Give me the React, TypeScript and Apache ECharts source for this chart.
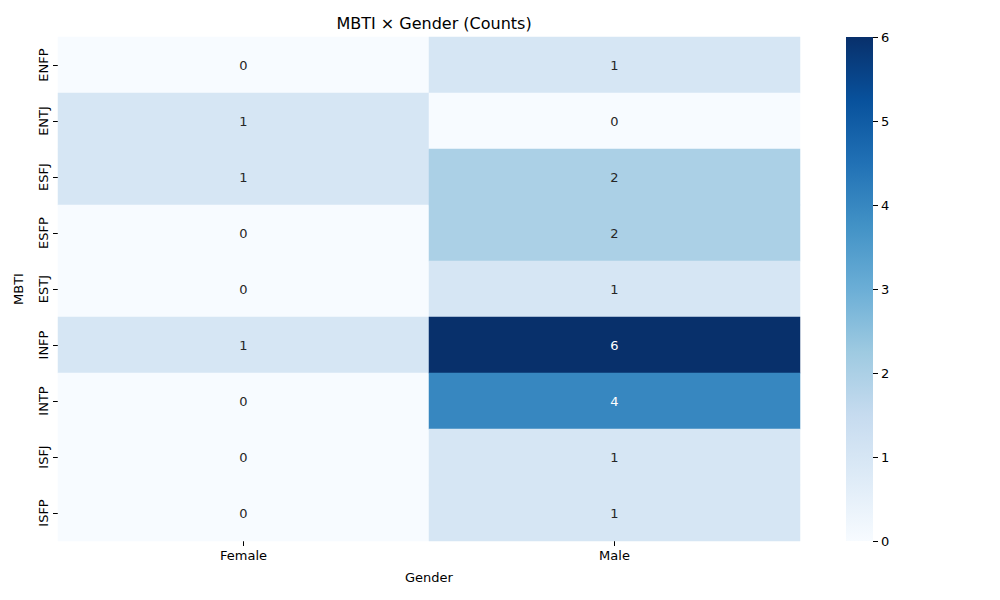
import React, { useEffect, useRef } from "react";
import * as echarts from "echarts";

const mbtiTypes = ["ENFP", "ENTJ", "ESFJ", "ESFP", "ESTJ", "INFP", "INTP", "ISFJ", "ISFP"];
const genders = ["Female", "Male"];
const femaleCounts = [0, 1, 1, 0, 0, 1, 0, 0, 0];
const maleCounts = [1, 0, 2, 2, 1, 6, 4, 1, 1];
const colorbarMin = 0;
const colorbarMax = 6;
const bluesColors = ["#f7fbff", "#deebf7", "#c6dbef", "#9ecae1", "#6baed6", "#4292c6", "#2171b5", "#08519c", "#08306b"];

const FONT = "DejaVu Sans";

export default function App() {
  const ref = useRef<HTMLDivElement>(null);
  useEffect(() => {
    if (!ref.current) return;
    const chart = echarts.init(ref.current, undefined, { renderer: "svg" });
    const cols = [femaleCounts, maleCounts];
    const data: any[] = [];
    cols.forEach((col, xi) => {
      col.forEach((v, yi) => {
        data.push({
          value: [xi, yi, v],
          label: { color: v >= 3.5 ? "#ffffff" : "#262626" },
        });
      });
    });
    const gradient = new echarts.graphic.LinearGradient(
      0, 1, 0, 0,
      bluesColors.map((c, i) => ({ offset: i / (bluesColors.length - 1), color: c }))
    );
    chart.setOption({
      animation: false,
      backgroundColor: "#ffffff",
      title: {
        text: "MBTI × Gender (Counts)",
        left: 429,
        textAlign: "center",
        top: 10,
        textStyle: { fontFamily: FONT, fontSize: 16, fontWeight: "normal", color: "#000" },
      },
      grid: [
        { left: 58, top: 37, width: 742, height: 504 },
        { left: 846, top: 37, width: 27, height: 504, show: true, backgroundColor: gradient, borderWidth: 0 },
      ],
      xAxis: [
        {
          type: "category",
          gridIndex: 0,
          data: genders,
          name: "Gender",
          nameLocation: "middle",
          nameGap: 30,
          nameTextStyle: { fontFamily: FONT, fontSize: 13, color: "#000" },
          axisLine: { show: false },
          axisTick: { show: true, alignWithLabel: true, length: 5, lineStyle: { color: "#000" } },
          axisLabel: { fontFamily: FONT, fontSize: 13, color: "#000", margin: 8 },
          splitLine: { show: false },
        },
        { type: "value", gridIndex: 1, show: false, min: 0, max: 1 },
      ],
      yAxis: [
        {
          type: "category",
          gridIndex: 0,
          data: mbtiTypes,
          inverse: true,
          name: "MBTI",
          nameLocation: "middle",
          nameGap: 33,
          nameRotate: 90,
          nameTextStyle: { fontFamily: FONT, fontSize: 13, color: "#000" },
          axisLine: { show: false },
          axisTick: { show: true, alignWithLabel: true, length: 5, lineStyle: { color: "#000" } },
          axisLabel: { fontFamily: FONT, fontSize: 13, color: "#000", rotate: 90, margin: 8 },
          splitLine: { show: false },
        },
        {
          type: "value",
          gridIndex: 1,
          min: colorbarMin,
          max: colorbarMax,
          interval: 1,
          position: "right",
          axisLine: { show: true, onZero: false, lineStyle: { color: "#000", opacity: 0 } },
          axisTick: { show: true, inside: false, length: 5, lineStyle: { color: "#000", width: 1 } },
          axisLabel: { fontFamily: FONT, fontSize: 13, color: "#000", margin: 8 },
          splitLine: { show: false },
        },
      ],
      visualMap: {
        type: "continuous",
        show: false,
        min: colorbarMin,
        max: colorbarMax,
        seriesIndex: 0,
        inRange: { color: bluesColors },
      },
      series: [
        {
          type: "heatmap",
          xAxisIndex: 0,
          yAxisIndex: 0,
          data,
          label: { show: true, fontFamily: FONT, fontSize: 13 },
          itemStyle: { borderWidth: 0 },
          emphasis: { disabled: true },
        },
        {
          type: "scatter",
          xAxisIndex: 1,
          yAxisIndex: 1,
          data: [],
          silent: true,
        },
      ],
    });
    return () => chart.dispose();
  }, []);
  return <div ref={ref} style={{ width: 1000, height: 600, marginLeft: -8, marginTop: -8 }} />;
}
